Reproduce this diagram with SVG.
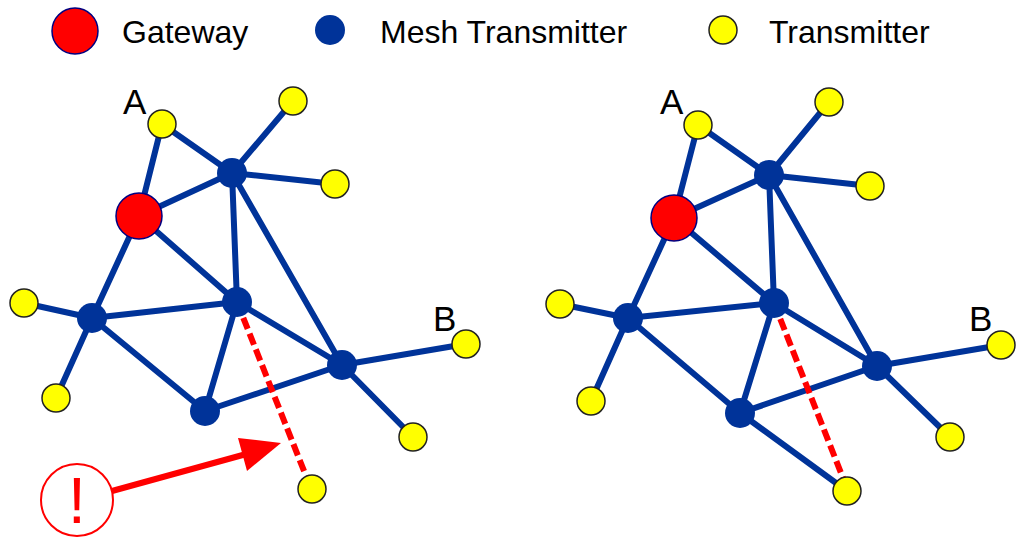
<svg xmlns="http://www.w3.org/2000/svg" width="1018" height="537" viewBox="0 0 1018 537">
<style>
text{font-family:"Liberation Sans",Arial,sans-serif;fill:#000}
.lg{font-size:32px}
.lb{font-size:35px}
.g{fill:#f00;stroke:#000080;stroke-width:1.5}
.m{fill:#003399}
.t{fill:#ff0;stroke:#222;stroke-width:1.5}
.l{stroke:#003399;stroke-width:6;fill:none}
.d{stroke:#f00;stroke-width:6;stroke-dasharray:12 5;fill:none}
</style>
<rect width="1018" height="537" fill="#fff"/>
<g id="connectors">
<path class="l" d="M162 124L139 216M162 124L232 173M232 173L293 101M232 173L335 184M232 173L139 216M232 173L237 302M232 173L342 365M139 216L237 302M139 216L92 318M92 318L24 303M92 318L56 398M92 318L237 302M92 318L205 411M237 302L205 411M205 411L342 365M237 302L342 365M342 365L466 344M342 365L413 437"/>
<path class="d" d="M237 302L306 476"/>
<path class="l" d="M698 125L674 218M698 125L769 175M769 175L829 102M769 175L870 186M769 175L674 218M769 175L774 303M769 175L877 366M674 218L774 303M674 218L628 318M628 318L560 304M628 318L591 401M628 318L774 303M628 318L740 413M774 303L740 413M740 413L877 366M774 303L877 366M877 366L1001 345M877 366L950 437M740 413L847 491"/>
<path class="d" d="M774 303L843 478"/>
<path d="M112 491L250 453" stroke="#f00" stroke-width="6" fill="none"/>
<path d="M238 438L281 443L247 471Z" fill="#f00"/>
</g>
<g id="legend-gateway"><circle class="g" cx="75" cy="31" r="23"/><text class="lg" x="122" y="43">Gateway</text></g>
<g id="legend-mesh"><circle class="m" cx="330" cy="30" r="15"/><text class="lg" x="380" y="43">Mesh Transmitter</text></g>
<g id="legend-transmitter"><circle class="t" cx="723" cy="30" r="14"/><text class="lg" x="769" y="43">Transmitter</text></g>
<g id="L-A"><text class="lb" x="123" y="114">A</text><circle class="t" cx="162" cy="124" r="14"/></g>
<g id="L-t1"><circle class="t" cx="293" cy="101" r="14"/></g>
<g id="L-t2"><circle class="t" cx="335" cy="184" r="14"/></g>
<g id="L-t3"><circle class="t" cx="24" cy="303" r="14"/></g>
<g id="L-t4"><circle class="t" cx="56" cy="398" r="14"/></g>
<g id="L-B"><text class="lb" x="433" y="331">B</text><circle class="t" cx="466" cy="344" r="14"/></g>
<g id="L-t5"><circle class="t" cx="413" cy="437" r="14"/></g>
<g id="L-t6"><circle class="t" cx="312" cy="489" r="14"/></g>
<g id="L-gw"><circle class="g" cx="139" cy="216" r="23"/></g>
<g id="L-m1"><circle class="m" cx="232" cy="173" r="15"/></g>
<g id="L-m2"><circle class="m" cx="237" cy="302" r="15"/></g>
<g id="L-m3"><circle class="m" cx="92" cy="318" r="15"/></g>
<g id="L-m4"><circle class="m" cx="205" cy="411" r="15"/></g>
<g id="L-m5"><circle class="m" cx="342" cy="365" r="15"/></g>
<g id="R-A"><text class="lb" x="660" y="114">A</text><circle class="t" cx="698" cy="125" r="14"/></g>
<g id="R-t1"><circle class="t" cx="829" cy="102" r="14"/></g>
<g id="R-t2"><circle class="t" cx="870" cy="186" r="14"/></g>
<g id="R-t3"><circle class="t" cx="560" cy="304" r="14"/></g>
<g id="R-t4"><circle class="t" cx="591" cy="401" r="14"/></g>
<g id="R-B"><text class="lb" x="969" y="331">B</text><circle class="t" cx="1001" cy="345" r="14"/></g>
<g id="R-t5"><circle class="t" cx="950" cy="437" r="14"/></g>
<g id="R-t6"><circle class="t" cx="847" cy="491" r="14"/></g>
<g id="R-gw"><circle class="g" cx="674" cy="218" r="23"/></g>
<g id="R-m1"><circle class="m" cx="769" cy="175" r="15"/></g>
<g id="R-m2"><circle class="m" cx="774" cy="303" r="15"/></g>
<g id="R-m3"><circle class="m" cx="628" cy="318" r="15"/></g>
<g id="R-m4"><circle class="m" cx="740" cy="413" r="15"/></g>
<g id="R-m5"><circle class="m" cx="877" cy="366" r="15"/></g>
<g id="alert"><circle cx="77" cy="500" r="36" fill="#fff" stroke="#f00" stroke-width="2"/><text x="77" y="523" text-anchor="middle" style="font-size:64px;fill:#f00">!</text></g>
</svg>
